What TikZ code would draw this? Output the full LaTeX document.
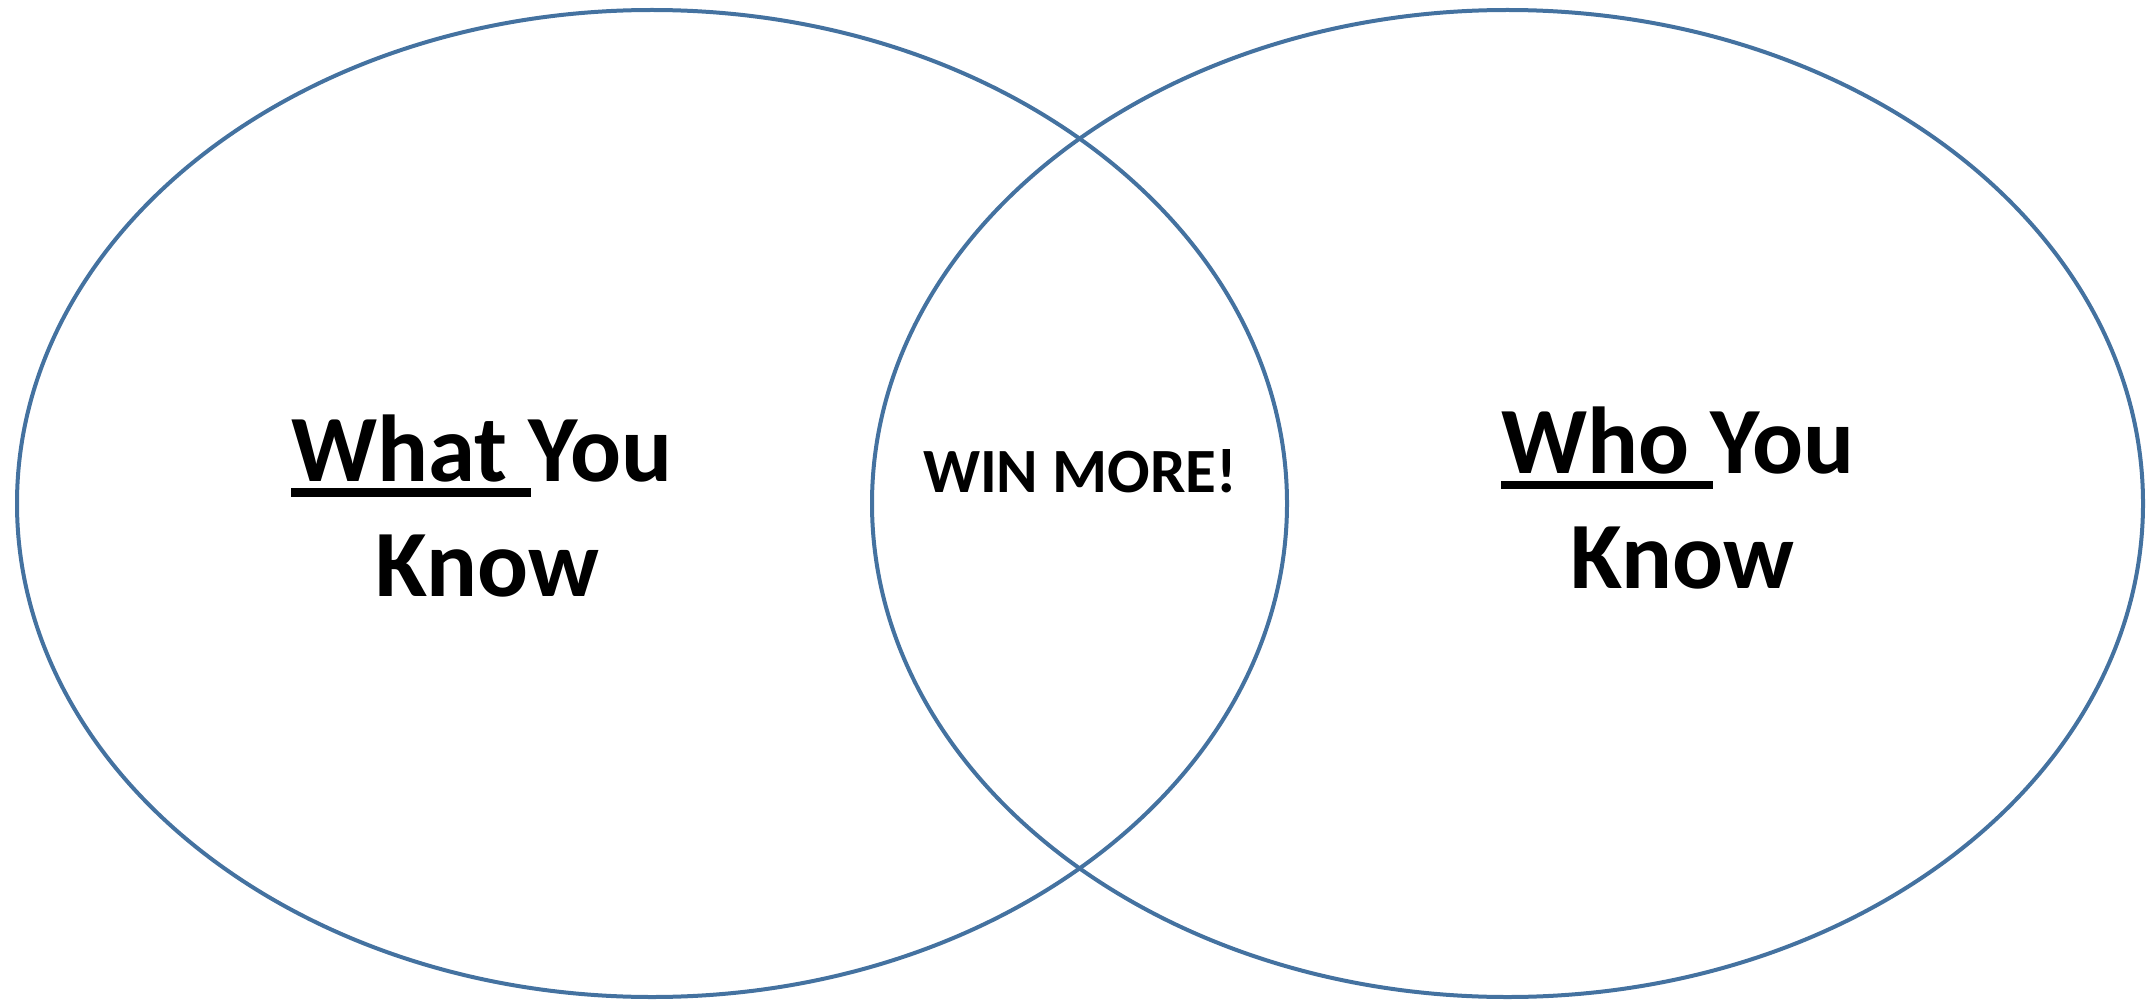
\documentclass[tikz,border=0pt]{standalone}
\usepackage{fontspec}
\setmainfont{Carlito}
\definecolor{ringblue}{RGB}{68,114,160}
\tikzset{
  ring/.style={draw=ringblue, line width=4pt},
  bigtext/.style={font=\fontsize{95}{114}\selectfont\bfseries, inner sep=0pt, anchor=base west},
  midtext/.style={font=\fontsize{63}{77}\selectfont\bfseries, inner sep=0pt, anchor=base},
}
\begin{document}
\begin{tikzpicture}[x=1pt,y=-1pt]
\useasboundingbox (0,0) rectangle (2151,1000);
\draw[ring] (652,503.5) ellipse [x radius=635, y radius=493.5];
\draw[ring] (1507.5,503.5) ellipse [x radius=635.5, y radius=493.5];
% left
\node[bigtext] (whatyou) at (291,481) {What You};
\node[bigtext] (knowl) at (375,596.5) {Know};
\fill (whatyou.base west) ++(0,7) rectangle ++(240,8.5);
% right
\node[bigtext] (whoyou) at (1501,473) {Who You};
\node[bigtext] (knowr) at (1570,588.5) {Know};
\fill (whoyou.base west) ++(0,7.5) rectangle ++(212,8.5);
% middle
\node[midtext] (win) at (1080,492) {WIN MORE!};
\end{tikzpicture}
\end{document}
